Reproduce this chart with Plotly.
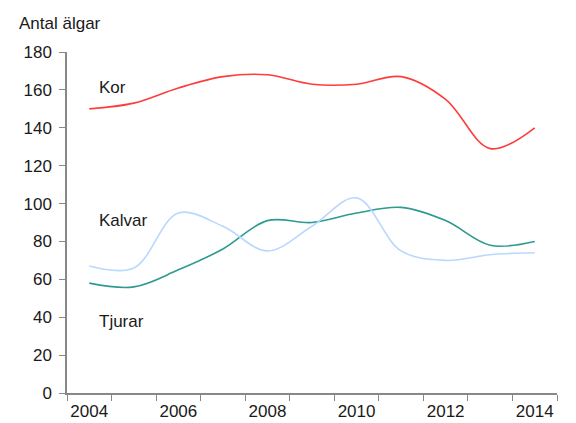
import plotly.graph_objects as go

years = [str(y) for y in range(2004, 2015)]
kor = [150, 153, 161, 167, 168, 163, 163, 167, 155, 129, 140]
kalvar = [58, 56, 65, 76, 91, 90, 95, 98, 91, 78, 80]
tjurar = [67, 66, 95, 88, 75, 88, 103, 75, 70, 73, 74]

tick_text = [y if int(y) % 2 == 0 else "" for y in years]
y_ticks = list(range(0, 181, 20))

font = dict(family="Liberation Sans, Arial, sans-serif", size=17, color="#1a1a1a")

fig = go.Figure()
fig.add_trace(go.Scatter(x=years, y=kor, mode="lines", line=dict(color="#ff3c3c", width=1.6, shape="spline"), name="Kor"))
fig.add_trace(go.Scatter(x=years, y=kalvar, mode="lines", line=dict(color="#2e9a90", width=1.6, shape="spline"), name="Kalvar"))
fig.add_trace(go.Scatter(x=years, y=tjurar, mode="lines", line=dict(color="#b8d8ff", width=1.6, shape="spline"), name="Tjurar"))

# series labels next to the lines (x given as category index)
fig.add_annotation(x=0, y=161, text="Kor", showarrow=False, xanchor="left", xshift=8, font=font)
fig.add_annotation(x=0, y=91, text="Kalvar", showarrow=False, xanchor="left", xshift=8, font=font)
fig.add_annotation(x=0, y=38, text="Tjurar", showarrow=False, xanchor="left", xshift=8, font=font)
fig.add_annotation(x=0, xref="paper", y=1, yref="paper", text="Antal älgar", showarrow=False,
                   xanchor="center", yanchor="bottom", xshift=-7, yshift=17, font=font)

# page body adds an 8px margin, so the figure is a bit smaller than the window
fig.update_layout(
    width=560, height=415,
    margin=dict(l=59, r=11, t=44, b=30),
    paper_bgcolor="white", plot_bgcolor="white",
    showlegend=False,
    font=font,
)
fig.update_xaxes(
    type="category", range=[-0.5, 10.5],
    tickvals=years, ticktext=tick_text, tickson="boundaries", tickangle=0,
    ticks="outside", ticklen=6, tickcolor="#888888", ticklabelstandoff=2,
    showline=True, linecolor="#888888", linewidth=1.5,
    showgrid=False, zeroline=False, automargin=False,
)
fig.update_yaxes(
    range=[0, 180], tickvals=y_ticks,
    ticks="outside", ticklen=6, tickcolor="#888888", ticklabelstandoff=4,
    showline=True, linecolor="#888888", linewidth=1.5,
    showgrid=False, zeroline=False, automargin=False,
)

fig.write_html("out.html")
